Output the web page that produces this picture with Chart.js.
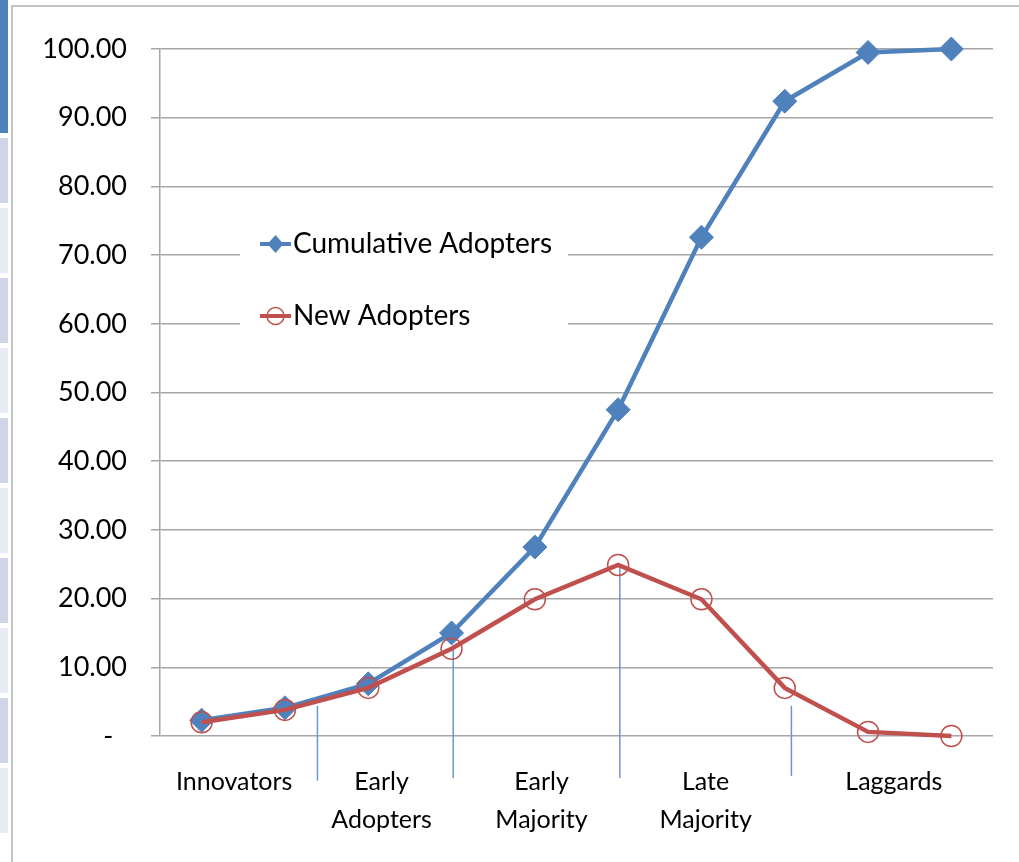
<!DOCTYPE html>
<html>
<head>
<meta charset="utf-8">
<script src="https://cdn.jsdelivr.net/npm/chart.js@4.4.0/dist/chart.umd.min.js"></script>
<style>
    body { margin: 0; background: #fff; }
    #side { position: absolute; left: 0; top: 0; width: 8px; height: 862px; }
    #side div { position: absolute; left: 0; width: 8px; }
    #frame { position: absolute; left: 11px; top: 5px; width: 1008px; height: 857px;
             border-left: 2px solid #c4c4c4; border-top: 2px solid #c4c4c4; }
    canvas { position: absolute; left: 0; top: 0; }
</style>
</head>
<body>
<div id="side"></div>
<div id="frame"></div>
<canvas id="chart" width="1019" height="862"></canvas>
<script>
// values
let points = [1, 2, 3, 4, 5, 6, 7, 8, 9, 10];
let cumulative = [2.3, 4.1, 7.6, 15.0, 27.5, 47.5, 72.6, 92.4, 99.5, 100];
let newAdopters = [2.0, 3.8, 7.0, 12.7, 19.9, 24.9, 19.9, 7.0, 0.6, 0];

let stageNames = [['Innovators'], ['Early', 'Adopters'], ['Early', 'Majority'], ['Late', 'Majority'], ['Laggards']];
let stagePos = [1.39, 3.16, 5.08, 7.05, 9.31];

let dividerPos = [2.39, 4.02, 6.02, 8.08];
let dividerTop = [4.4, 12.7, 24.9, 4.4];
let dividerBottom = [-6.5, -6.1, -6.1, -5.8];

let yTicks = [0, 10, 20, 30, 40, 50, 60, 70, 80, 90, 100];

// grey strip on the left edge
let side = document.getElementById('side');
let strip = document.createElement('div');
strip.style.top = '0px';
strip.style.height = '133px';
strip.style.background = '#4f81bd';
side.appendChild(strip);
for (let i = 0; i < 10; i++) {
    let d = document.createElement('div');
    d.style.top = (138 + i * 70) + 'px';
    d.style.height = '65px';
    d.style.background = i % 2 === 0 ? '#cdd5e6' : '#e6ebf4';
    side.appendChild(d);
}

let blue = '#4f81bd';
let red = '#c0504d';
let font = 'Lato';

function toXY(ys) {
    return points.map(function (p, i) { return { x: p, y: ys[i] }; });
}

let dividers = {
    id: 'dividers',
    beforeDatasetsDraw: function (chart) {
        let ctx = chart.ctx;
        let x = chart.scales.x;
        let y = chart.scales.y;
        ctx.save();
        ctx.strokeStyle = '#6b96cc';
        ctx.lineWidth = 1.5;
        for (let i = 0; i < dividerPos.length; i++) {
            let px = x.getPixelForValue(dividerPos[i]);
            ctx.beginPath();
            ctx.moveTo(px, y.getPixelForValue(dividerTop[i]));
            ctx.lineTo(px, y.getPixelForValue(dividerBottom[i]));
            ctx.stroke();
        }
        ctx.restore();
    }
};

let legendBox = {
    id: 'legendBox',
    beforeDatasetsDraw: function (chart) {
        let ctx = chart.ctx;
        let a = chart.chartArea;
        let left = a.left + 80;
        let top = a.top + 166;
        ctx.save();
        ctx.fillStyle = '#fff';
        ctx.fillRect(left, top, 328, 130);

        let rows = chart.data.datasets;
        for (let i = 0; i < rows.length; i++) {
            let ds = rows[i];
            let cy = top + 29 + i * 72;
            let x0 = left + 20;
            let x1 = left + 51;
            let cx = (x0 + x1) / 2;
            ctx.strokeStyle = ds.borderColor;
            ctx.lineWidth = 4;
            ctx.beginPath();
            ctx.moveTo(x0, cy);
            ctx.lineTo(x1, cy);
            ctx.stroke();
            if (ds.pointStyle === 'rectRot') {
                ctx.fillStyle = ds.pointBackgroundColor;
                ctx.beginPath();
                ctx.moveTo(cx - 8, cy);
                ctx.lineTo(cx, cy - 9);
                ctx.lineTo(cx + 8, cy);
                ctx.lineTo(cx, cy + 9);
                ctx.closePath();
                ctx.fill();
            } else {
                ctx.strokeStyle = ds.pointBorderColor;
                ctx.lineWidth = 1.5;
                ctx.beginPath();
                ctx.arc(cx, cy, 8.5, 0, Math.PI * 2);
                ctx.stroke();
            }
            ctx.fillStyle = '#000';
            ctx.font = '28px ' + font;
            ctx.textBaseline = 'middle';
            ctx.textAlign = 'left';
            ctx.fillText(ds.label, x1 + 2, cy);
        }
        ctx.restore();
    }
};

let chart = new Chart(document.getElementById('chart'), {
    type: 'line',
    data: {
        datasets: [{
            label: 'Cumulative Adopters',
            data: toXY(cumulative),
            borderColor: blue,
            borderWidth: 4.5,
            pointStyle: 'rectRot',
            pointRadius: 12,
            pointBackgroundColor: blue,
            pointBorderColor: blue,
            pointBorderWidth: 1,
            tension: 0,
            order: 2,
            clip: false
        },
        {
            label: 'New Adopters',
            data: toXY(newAdopters),
            borderColor: red,
            borderWidth: 4.5,
            pointStyle: 'circle',
            pointRadius: 10.5,
            pointBackgroundColor: 'transparent',
            pointBorderColor: red,
            pointBorderWidth: 1.5,
            tension: 0,
            order: 1,
            clip: false
        }]
    },
    options: {
        responsive: false,
        animation: false,
        devicePixelRatio: 1,
        layout: { padding: { top: 49, right: 26, bottom: 0, left: 0 } },
        plugins: {
            legend: { display: false },
            tooltip: { enabled: false },
            title: { display: false }
        },
        scales: {
            x: {
                type: 'linear',
                min: 0.5,
                max: 10.5,
                grid: { display: false, drawTicks: false },
                border: { display: false },
                afterBuildTicks: function (scale) {
                    scale.ticks = stagePos.map(function (v) { return { value: v }; });
                },
                afterFit: function (scale) { scale.height = 126; },
                ticks: {
                    autoSkip: false,
                    maxRotation: 0,
                    padding: 27,
                    color: '#000',
                    font: { family: font, size: 25, lineHeight: '38px' },
                    callback: function (value, index) { return stageNames[index]; }
                }
            },
            y: {
                min: 0,
                max: 100,
                afterBuildTicks: function (scale) {
                    scale.ticks = yTicks.map(function (v) { return { value: v }; });
                },
                afterFit: function (scale) { scale.width = 160; },
                grid: { color: '#a6a6a6', lineWidth: 1.5, tickLength: 9 },
                border: { display: true, color: '#a6a6a6', width: 1.5 },
                ticks: {
                    padding: 24,
                    color: '#000',
                    font: { family: font, size: 27 },
                    callback: function (v) { return v === 0 ? '-  ' : v.toFixed(2); }
                }
            }
        }
    },
    plugins: [dividers, legendBox]
});
</script>
</body>
</html>
